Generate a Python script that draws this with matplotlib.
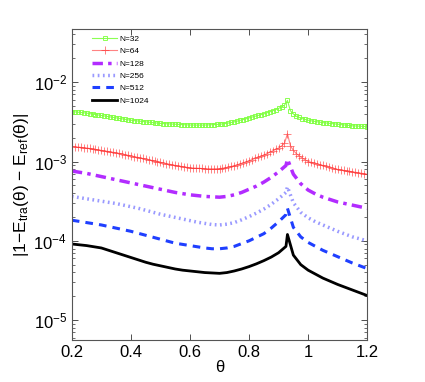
import numpy as np
import matplotlib
matplotlib.use("Agg")
import matplotlib.pyplot as plt
from matplotlib.ticker import LogLocator, NullFormatter

plt.rcParams['font.family'] = ['Liberation Sans', 'DejaVu Sans']
plt.rcParams['mathtext.fontset'] = 'custom'
plt.rcParams['mathtext.rm'] = 'Liberation Sans'
plt.rcParams['mathtext.it'] = 'Liberation Sans:italic'

# fine theta grid for the two marker series (step 0.01)
theta_fine = np.round(np.arange(0.2, 1.2001, 0.01), 2)

# coarse theta grid for the line-only series (extra point at the cusp)
theta = [0.2, 0.225, 0.25, 0.275, 0.3, 0.325, 0.35, 0.375, 0.4, 0.425,
         0.45, 0.475, 0.5, 0.525, 0.55, 0.575, 0.6, 0.625, 0.65, 0.675,
         0.7, 0.725, 0.75, 0.775, 0.8, 0.825, 0.85, 0.875, 0.9, 0.925,
         0.93, 0.95, 0.975, 1.0, 1.025, 1.05, 1.075, 1.1, 1.125, 1.15,
         1.175, 1.2]

# log10 of the error
log_n32 = [-2.370, -2.374, -2.378, -2.382, -2.386, -2.390, -2.396, -2.402, -2.408, -2.414,
           -2.420, -2.426, -2.432, -2.438, -2.444, -2.450, -2.456, -2.462, -2.468, -2.474,
           -2.480, -2.484, -2.488, -2.492, -2.496, -2.500, -2.504, -2.508, -2.512, -2.516,
           -2.520, -2.522, -2.524, -2.526, -2.528, -2.530, -2.532, -2.534, -2.536, -2.538,
           -2.540, -2.540, -2.541, -2.541, -2.541, -2.540, -2.539, -2.537, -2.535, -2.533,
           -2.530, -2.526, -2.521, -2.515, -2.508, -2.500, -2.491, -2.481, -2.471, -2.461,
           -2.450, -2.440, -2.430, -2.420, -2.410, -2.400, -2.387, -2.374, -2.361, -2.347,
           -2.330, -2.312, -2.290, -2.230, -2.360, -2.400, -2.430, -2.445, -2.460, -2.470,
           -2.480, -2.487, -2.493, -2.499, -2.505, -2.510, -2.514, -2.518, -2.522, -2.526,
           -2.530, -2.534, -2.538, -2.542, -2.546, -2.550, -2.552, -2.554, -2.556, -2.558,
           -2.560]
log_n64 = [-2.810, -2.814, -2.818, -2.822, -2.826, -2.830, -2.836, -2.842, -2.848, -2.854,
           -2.860, -2.866, -2.872, -2.878, -2.884, -2.890, -2.898, -2.906, -2.914, -2.922,
           -2.930, -2.938, -2.946, -2.954, -2.962, -2.970, -2.978, -2.986, -2.994, -3.002,
           -3.010, -3.018, -3.026, -3.034, -3.042, -3.050, -3.056, -3.062, -3.068, -3.074,
           -3.080, -3.082, -3.084, -3.086, -3.088, -3.090, -3.091, -3.092, -3.092, -3.091,
           -3.090, -3.085, -3.079, -3.072, -3.063, -3.053, -3.042, -3.030, -3.017, -3.004,
           -2.990, -2.976, -2.962, -2.948, -2.934, -2.920, -2.902, -2.884, -2.866, -2.848,
           -2.830, -2.805, -2.770, -2.650, -2.800, -2.860, -2.900, -2.930, -2.955, -2.980,
           -3.000, -3.010, -3.020, -3.030, -3.040, -3.050, -3.060, -3.070, -3.080, -3.090,
           -3.100, -3.106, -3.112, -3.118, -3.124, -3.130, -3.136, -3.142, -3.148, -3.154,
           -3.160]
log_n128 = [-3.12, -3.135, -3.15, -3.17, -3.19, -3.21, -3.23, -3.25, -3.27, -3.29,
            -3.31, -3.33, -3.35, -3.37, -3.39, -3.405, -3.42, -3.43, -3.44, -3.445,
            -3.45, -3.44, -3.42, -3.39, -3.35, -3.31, -3.26, -3.20, -3.13, -3.05,
            -2.97, -3.16, -3.28, -3.36, -3.41, -3.45, -3.48, -3.51, -3.53, -3.55,
            -3.57, -3.59]
log_n256 = [-3.44, -3.455, -3.47, -3.485, -3.50, -3.515, -3.53, -3.55, -3.57, -3.59,
            -3.615, -3.64, -3.665, -3.685, -3.705, -3.725, -3.745, -3.765, -3.78, -3.795,
            -3.80, -3.79, -3.77, -3.735, -3.695, -3.65, -3.60, -3.54, -3.47, -3.39,
            -3.32, -3.52, -3.64, -3.71, -3.76, -3.80, -3.84, -3.88, -3.915, -3.95,
            -3.975, -4.00]
log_n512 = [-3.74, -3.755, -3.77, -3.785, -3.80, -3.82, -3.84, -3.86, -3.88, -3.905,
            -3.93, -3.955, -3.98, -4.005, -4.03, -4.045, -4.06, -4.075, -4.09, -4.10,
            -4.10, -4.09, -4.07, -4.035, -4.00, -3.955, -3.91, -3.84, -3.76, -3.67,
            -3.59, -3.83, -3.95, -4.02, -4.07, -4.12, -4.16, -4.20, -4.24, -4.28,
            -4.315, -4.35]
log_n1024 = [-4.04, -4.05, -4.06, -4.075, -4.09, -4.12, -4.15, -4.18, -4.21, -4.24,
             -4.27, -4.295, -4.315, -4.335, -4.355, -4.37, -4.38, -4.39, -4.40, -4.405,
             -4.41, -4.40, -4.38, -4.355, -4.325, -4.29, -4.25, -4.205, -4.15, -4.07,
             -3.92, -4.18, -4.30, -4.37, -4.42, -4.47, -4.51, -4.55, -4.585, -4.62,
             -4.655, -4.69]

labels = ['N=32', 'N=64', 'N=128', 'N=256', 'N=512', 'N=1024']

fig = plt.figure(figsize=(4.25, 3.82), dpi=100)
ax = fig.add_axes([0.169, 0.110, 0.695, 0.814])

ax.semilogy(theta_fine, 10 ** np.array(log_n32), color='#7fff3f', lw=0.8,
            marker='s', ms=3.5, mfc='none', mew=0.7, alpha=0.9, label=labels[0])
ax.semilogy(theta_fine, 10 ** np.array(log_n64), color='#ff3030', lw=0.8,
            marker='+', ms=6, mew=0.7, alpha=0.6, label=labels[1])
ax.semilogy(theta, 10 ** np.array(log_n128), color='#b22cff', lw=2.5,
            ls=(0, (3, 1.5, 1, 1.5)), label=labels[2])
ax.semilogy(theta, 10 ** np.array(log_n256), color='#9a9aff', lw=2.5,
            ls=(0, (0.5, 1)), label=labels[3])
ax.semilogy(theta, 10 ** np.array(log_n512), color='#1f3fff', lw=2.2,
            ls=(0, (2.5, 2)), label=labels[4])
ax.semilogy(theta, 10 ** np.array(log_n1024), color='black', lw=2.0,
            label=labels[5])

ax.set_xlim(0.2, 1.2)
ax.set_ylim(10 ** -5.25, 10 ** -1.33)
ax.set_xticks([0.2, 0.4, 0.6, 0.8, 1.0, 1.2])
ax.set_xticklabels(['0.2', '0.4', '0.6', '0.8', '1', '1.2'])
ax.yaxis.set_major_locator(LogLocator(base=10, numticks=10))
ax.yaxis.set_minor_locator(LogLocator(base=10, subs=np.arange(2, 10), numticks=10))
ax.yaxis.set_minor_formatter(NullFormatter())

ax.tick_params(which='both', direction='in', top=True, right=True,
               labelsize=12, colors='#333333', labelcolor='black')
ax.tick_params(which='major', length=4, width=0.6)
ax.tick_params(which='minor', length=2, width=0.5)
for s in ax.spines.values():
    s.set_color('#555555')
    s.set_linewidth(0.8)

ax.set_xlabel('θ', fontsize=12, labelpad=0)
ax.set_ylabel(r'|1$-$E$_{\mathrm{tra}}$(θ) $-$ E$_{\mathrm{ref}}$(θ)|', fontsize=12.5, labelpad=2)

leg = ax.legend(loc='upper left', bbox_to_anchor=(0.05, 1.0), frameon=False,
                fontsize=6, handlelength=3.0, handletextpad=0.25,
                labelspacing=0.55, borderaxespad=0.3)

fig.savefig('out.png', dpi=100)
